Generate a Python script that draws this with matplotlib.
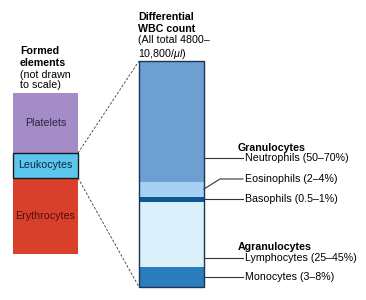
import matplotlib.pyplot as plt
from matplotlib.patches import Rectangle

plt.rcParams['font.family'] = ['Liberation Sans', 'DejaVu Sans']
plt.rcParams['mathtext.fontset'] = 'custom'
plt.rcParams['mathtext.it'] = 'Liberation Sans:italic'

# formed elements (not to scale), heights of the left column in pixels
formed_names = ['Platelets', 'Leukocytes', 'Erythrocytes']
formed_sizes = [60, 25, 76]
formed_colors = ['#a48cc6', '#5cc6ef', '#d9402c']
formed_text = ['#2b2340', '#0d2a3a', '#4a1208']

# differential WBC count, share of the right column (%)
wbc_names = ['Neutrophils', 'Eosinophils', 'Basophils', 'Lymphocytes', 'Monocytes']
wbc_share = [53.5, 6.6, 2.2, 28.8, 8.9]
wbc_labels = ['Neutrophils (50\u201370%)', 'Eosinophils (2\u20134%)', 'Basophils (0.5\u20131%)',
              'Lymphocytes (25\u201345%)', 'Monocytes (3\u20138%)']
wbc_colors = ['#6d9fd3', '#a7d1f2', '#0b5894', '#dcf0fb', '#2b7dbf']

fig = plt.figure(figsize=(3.66, 3.0), dpi=100)
ax = fig.add_axes([0, 0, 1, 1])
ax.set_xlim(0, 366)
ax.set_ylim(300, 0)
ax.axis('off')

fs = 7.7
# left column
lx, lw, ly = 13, 65, 93
y = ly
tops = []
for name, h, c, tc in zip(formed_names, formed_sizes, formed_colors, formed_text):
    ec = '#1a1a1a' if name == 'Leukocytes' else 'none'
    ax.add_patch(Rectangle((lx, y), lw, h, facecolor=c, edgecolor=ec, lw=1.0, zorder=3 if ec != 'none' else 2))
    ax.text(lx + lw / 2, y + h / 2, name, ha='center', va='center', fontsize=fs, color=tc, zorder=4)
    tops.append(y)
    y += h
leu_top = tops[1]
leu_bot = tops[1] + formed_sizes[1]

ax.text(20, 57, 'Formed\nelements', fontsize=fs, fontweight='bold', va='center', ha='left', linespacing=1.2)
ax.text(20, 80, '(not drawn\nto scale)', fontsize=fs, va='center', ha='left', linespacing=0.95)

# right column
rx, rw, ry, rh = 139, 65, 61, 226
y = ry
mids = []
for s, c in zip(wbc_share, wbc_colors):
    h = rh * s / 100
    ax.add_patch(Rectangle((rx, y), rw, h, facecolor=c, edgecolor='none', zorder=2))
    mids.append((y, y + h))
    y += h
ax.add_patch(Rectangle((rx, ry), rw, rh, facecolor='none', edgecolor='#1d3550', lw=1.0, zorder=3))

ax.text(138, 23, 'Differential\nWBC count', fontsize=fs, fontweight='bold', va='center', ha='left', linespacing=1.2)
ax.text(138, 48, '(All total 4800\u2013\n10,800/$\\mu l$)', fontsize=fs, va='center', ha='left', linespacing=1.2)

# dashed zoom lines
ax.plot([lx + lw, rx], [leu_top, ry], ls=(0, (3, 2)), color='#333333', lw=0.6)
ax.plot([lx + lw, rx], [leu_bot, ry + rh], ls=(0, (3, 2)), color='#333333', lw=0.6)

# leader lines and labels
tx = 245
label_y = [158, 179, 199, 258, 277]
start_y = [158, 189, 199, 258, 277]
for (top, bot), sy, ly_, lab in zip(mids, start_y, label_y, wbc_labels):
    if sy == ly_:
        ax.plot([rx + rw, tx - 2], [sy, sy], color='#333333', lw=0.8)
    else:
        ax.plot([rx + rw, 220, tx - 2], [sy, ly_, ly_], color='#333333', lw=0.8)
    ax.text(tx, ly_, lab, fontsize=fs, va='center', ha='left')

ax.text(238, 148, 'Granulocytes', fontsize=fs, fontweight='bold', va='center', ha='left')
ax.text(238, 247, 'Agranulocytes', fontsize=fs, fontweight='bold', va='center', ha='left')

fig.savefig('out.png', dpi=100)
